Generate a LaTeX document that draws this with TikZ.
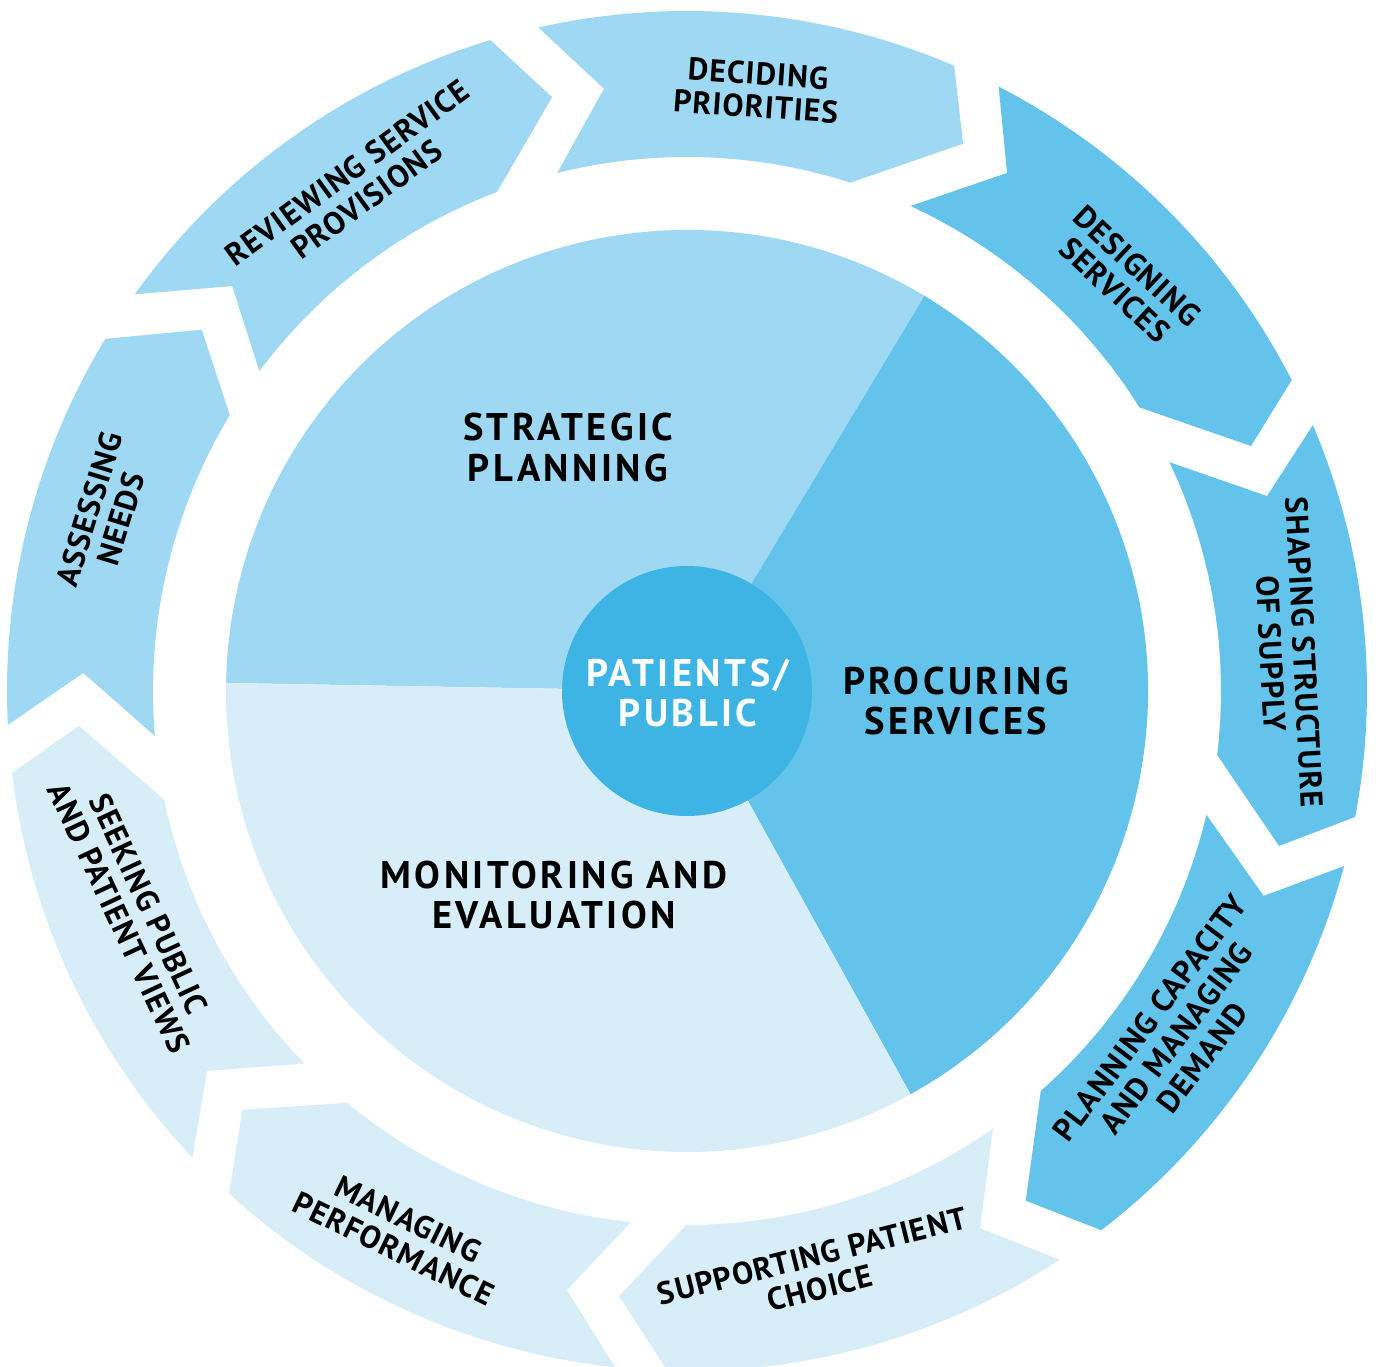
\documentclass[tikz,border=0pt]{standalone}
\usepackage{fontspec}
\setmainfont{PT Sans}
\newfontfamily\outerfont{PT Sans}[LetterSpace=3.5]
\newfontfamily\innerfont{PT Sans}[LetterSpace=9]
\definecolor{lb}{HTML}{9FD8F2}
\definecolor{mb}{HTML}{63C3EA}
\definecolor{pb}{HTML}{D7EEF9}
\definecolor{cb}{HTML}{3DB4E4}
\newcommand\chevseg[9]{%
  \fill[#1] (#2:680pt) arc[start angle=#2, end angle=#6, radius=680pt]
    -- (#7:#8pt) -- (#9:534pt)
    arc[start angle=#9, end angle=#5, radius=534pt]
    -- (#3:#4pt) -- cycle;}
\tikzset{
  outertxt/.style={font=\outerfont\fontsize{31.5}{33}\selectfont\bfseries, align=center, inner sep=0pt, text=black},
  innertxt/.style={font=\innerfont\fontsize{38.5}{40.5}\selectfont\bfseries, align=center, inner sep=0pt, text=black},
  hubtxt/.style={innertxt, text=white},
}
\begin{document}
\begin{tikzpicture}[x=1pt,y=1pt]
\useasboundingbox (-687,-676) rectangle (689,691);
\fill[white] (-687,-676) rectangle (689,691);
% outer ring chevrons
\chevseg{lb}{102.63}{97.85}{608}{104.06}{66.86}{63.23}{613}{72.17}
\chevseg{mb}{62.72}{58.29}{609}{65.26}{27.21}{23.48}{615}{32.08}
\chevseg{mb}{23.02}{18.58}{612}{25.37}{-10.67}{-14.67}{612}{-6.87}
\chevseg{mb}{-14.92}{-19.56}{612}{-13.41}{-52.47}{-56.39}{612}{-48.5}
\chevseg{pb}{-56.75}{-61.38}{612}{-55.06}{-91.66}{-96.41}{609}{-90.1}
\chevseg{pb}{-96.08}{-101.33}{611}{-96.02}{-132.32}{-136.72}{611}{-129.53}
\chevseg{pb}{-136.67}{-141.63}{612}{-135.76}{-173.07}{-176.71}{609}{-168.25}
\chevseg{lb}{-177.14}{-181.71}{604}{-175.17}{-211.19}{-216.67}{605}{-211.11}
\chevseg{lb}{144.32}{138.32}{609}{143.2}{106.81}{102.8}{609}{110.84}
% pie
\fill[lb] (0,0) -- (59:461pt) arc[start angle=59, end angle=179, radius=461pt] -- cycle;
\fill[mb] (0,0) -- (-61:461pt) arc[start angle=-61, end angle=59, radius=461pt] -- cycle;
\fill[pb] (0,0) -- (179:461pt) arc[start angle=179, end angle=299, radius=461pt] -- cycle;
\node[circle, fill=cb, minimum size=250pt, inner sep=0pt] (hub) at (0,0) {};
\node[hubtxt] (hubtext) at (1,-2) {PATIENTS/\\PUBLIC};
\node[innertxt] (strat) at (-119,243.5) {STRATEGIC\\PLANNING};
\node[innertxt] (proc) at (269,-10) {PROCURING\\SERVICES};
\node[innertxt] (moni) at (-133,-204) {MONITORING AND\\EVALUATION};
% outer labels
\node[outertxt, rotate=-4] (deciding) at (70,601) {DECIDING\\PRIORITIES};
\node[outertxt, rotate=-43] (designing) at (439,413) {DESIGNING\\SERVICES};
\node[outertxt, rotate=-87] (shaping) at (601,38) {SHAPING STRUCTURE\\OF SUPPLY};
\node[outertxt, rotate=53] (planning) at (489,-347) {PLANNING CAPACITY\\AND MANAGING\\DEMAND};
\node[outertxt, rotate=14] (supporting) at (129,-581) {SUPPORTING PATIENT\\CHOICE};
\node[outertxt, rotate=-26] (managing) at (-286,-543) {MANAGING\\PERFORMANCE};
\node[outertxt, rotate=-65] (seeking) at (-553,-220) {SEEKING PUBLIC\\AND PATIENT VIEWS};
\node[outertxt, rotate=73] (assessing) at (-582,177) {ASSESSING\\NEEDS};
\node[outertxt, rotate=36] (reviewing) at (-330,505) {REVIEWING SERVICE\\PROVISIONS};
\end{tikzpicture}
\end{document}
